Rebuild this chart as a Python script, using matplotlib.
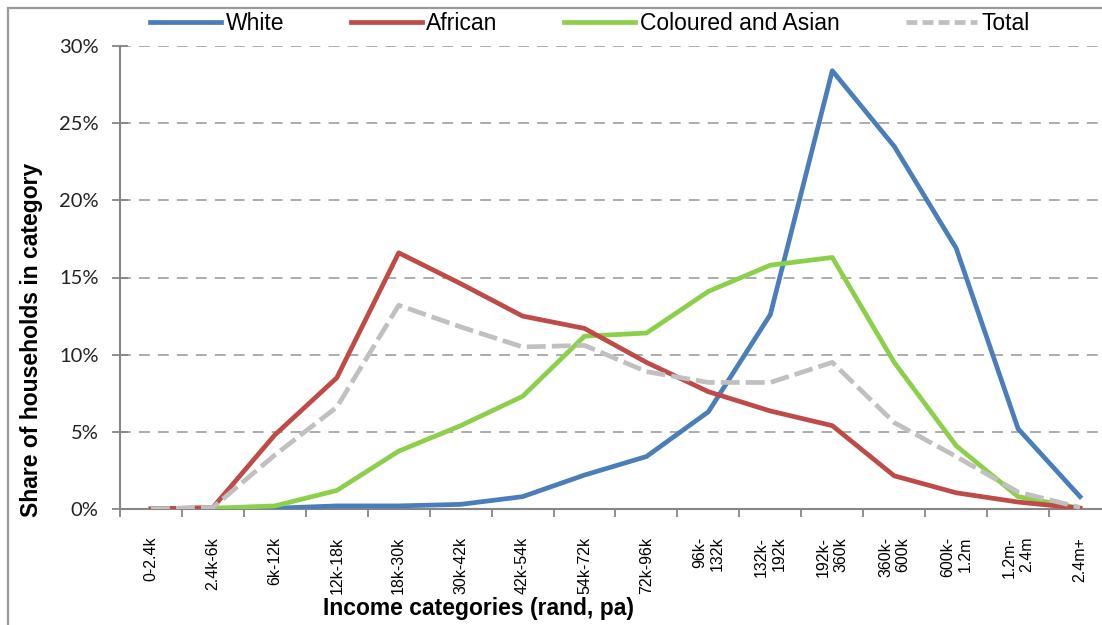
import matplotlib
matplotlib.use("Agg")
import matplotlib.pyplot as plt
from matplotlib.patches import Rectangle
from matplotlib.lines import Line2D
import numpy as np

categories = ["0-2.4k", "2.4k-6k", "6k-12k", "12k-18k", "18k-30k", "30k-42k",
              "42k-54k", "54k-72k", "72k-96k", "96k-\n132k", "132k-\n192k",
              "192k-\n360k", "360k-\n600k", "600k-\n1.2m", "1.2m-\n2.4m", "2.4m+"]
white = [0, 0, 0.05, 0.2, 0.2, 0.3, 0.8, 2.2, 3.4, 6.3, 12.6, 28.4, 23.5, 16.9, 5.2, 0.8]
african = [0, 0.1, 4.8, 8.5, 16.6, 14.6, 12.5, 11.7, 9.5, 7.6, 6.35, 5.4, 2.15, 1.05, 0.45, 0.05]
coloured = [0, 0.05, 0.2, 1.2, 3.75, 5.4, 7.3, 11.2, 11.4, 14.1, 15.8, 16.3, 9.5, 4.1, 0.8, 0.05]
total = [0, 0.1, 3.5, 6.6, 13.2, 11.8, 10.5, 10.6, 8.9, 8.2, 8.2, 9.5, 5.6, 3.4, 1.1, 0.1]
yticks = [0, 5, 10, 15, 20, 25, 30]
series_names = ["White", "African", "Coloured and Asian", "Total"]

W, H = 1102, 625
fig = plt.figure(figsize=(W / 100, H / 100), dpi=100)
ax = fig.add_axes([120 / W, (H - 509) / H, 1 - 120 / W, (509 - 46) / H])

x = np.arange(len(categories))
lw = 3.4
c_white = "#4A7EBB"
c_afr = "#BE4B48"
c_col = "#8CCF4A"
c_tot = "#C0C0C0"

ax.plot(x, white, color=c_white, lw=lw, solid_joinstyle="round", zorder=3)
ax.plot(x, coloured, color=c_col, lw=lw, solid_joinstyle="round", zorder=4)
ax.plot(x, african, color=c_afr, lw=lw, solid_joinstyle="round", zorder=5)
ax.plot(x, total, color=c_tot, lw=lw, dashes=(4.0, 1.3), zorder=6)

ax.set_xlim(-0.5, (W - 152) / 61.87)
ax.set_ylim(0, 30)

ax.set_yticks(yticks)
ax.set_yticklabels([f"{v}%" for v in yticks], fontfamily="Lato", fontsize=14.5, color="#222222")
ax.yaxis.grid(True, color="#A6A6A6", lw=1.3, dashes=(6, 4.5))
ax.set_axisbelow(True)

ax.set_xticks(x)
ax.set_xticks(np.arange(len(categories)) - 0.5, minor=True)
ax.set_xticklabels(categories, rotation=90, fontfamily="Liberation Sans", fontsize=11.5,
                   va="top", ha="center", multialignment="right")
ax.tick_params(axis="x", which="major", length=0, pad=20)
ax.tick_params(axis="x", which="minor", length=5.5, width=1.3, color="#868686", direction="out")
ax.tick_params(axis="y", which="major", length=11, width=1.3, color="#868686", direction="inout", pad=10)

for s in ["top", "right"]:
    ax.spines[s].set_visible(False)
for s in ["left", "bottom"]:
    ax.spines[s].set_color("#868686")
    ax.spines[s].set_linewidth(1.5)

fig.text(478.5 / W, 1 - 609 / H, "Income categories (rand, pa)", ha="center", va="center",
         fontfamily="Liberation Sans", fontweight="bold", fontsize=16.5)
fig.text(32 / W, 1 - 340 / H, "Share of households in category", ha="center", va="center",
         rotation=90, fontfamily="Liberation Sans", fontweight="bold", fontsize=16.5)

handles = [Line2D([], [], color=c_white, lw=lw),
           Line2D([], [], color=c_afr, lw=lw),
           Line2D([], [], color=c_col, lw=lw),
           Line2D([], [], color=c_tot, lw=lw, dashes=(2.3, 1.1))]
fig.legend(handles, series_names, loc="center", bbox_to_anchor=(590 / W, 1 - 24 / H),
           ncol=4, frameon=False, prop={"family": "Liberation Sans", "size": 16.5},
           handlelength=3.1, handletextpad=0.2, columnspacing=2.9,
           borderpad=0, borderaxespad=0)

fig.patches.append(Rectangle((8 / W, -0.2), 1.3, 1.2 - 8 / H, transform=fig.transFigure,
                             fill=False, edgecolor="#9A9A9A", lw=1.6, zorder=10))

fig.savefig("out.png", dpi=100)
